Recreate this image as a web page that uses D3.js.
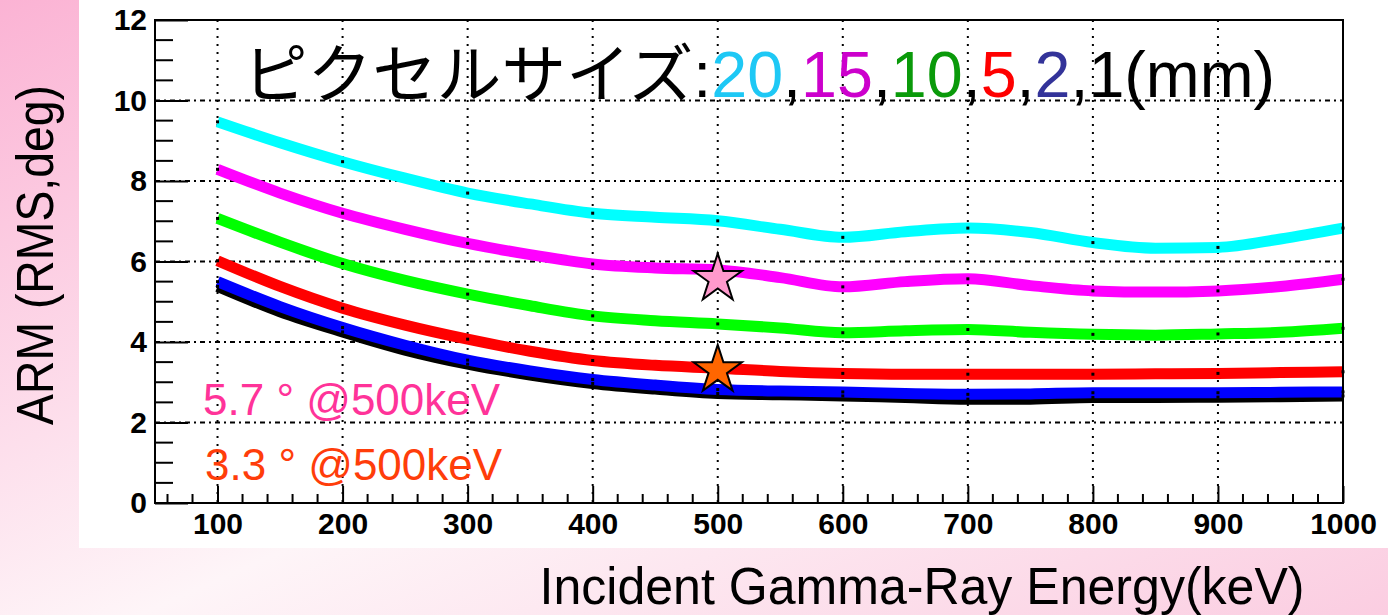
<!DOCTYPE html>
<html>
<head>
<meta charset="utf-8">
<script src="https://cdn.jsdelivr.net/npm/d3@7"></script>
<style>
  html, body { margin: 0; padding: 0; }
  svg { display: block; }
  .tick text { font-family: "Liberation Sans", Arial, sans-serif; font-weight: bold; font-size: 30px; fill: #000; }
</style>
</head>
<body>
<svg width="1388" height="615"></svg>
<script>
// energies (keV) and ARM (RMS, deg) per pixel size
const energy = [100,150,200,250,300,350,400,450,500,550,600,650,700,750,800,850,900,950,1000];
const arm20 = [9.47,8.95,8.48,8.07,7.70,7.43,7.20,7.10,7.01,6.80,6.60,6.74,6.83,6.72,6.47,6.33,6.35,6.56,6.83];
const arm15 = [8.29,7.70,7.20,6.80,6.45,6.17,5.94,5.84,5.79,5.60,5.37,5.50,5.57,5.40,5.27,5.24,5.27,5.38,5.56];
const arm10 = [7.07,6.48,5.95,5.53,5.19,4.90,4.65,4.53,4.45,4.35,4.23,4.28,4.31,4.24,4.19,4.17,4.20,4.24,4.34];
const arm5  = [6.02,5.38,4.84,4.42,4.07,3.77,3.54,3.42,3.35,3.27,3.22,3.20,3.20,3.20,3.20,3.21,3.22,3.24,3.26];
const arm2  = [5.50,4.88,4.36,3.92,3.55,3.28,3.07,2.93,2.82,2.78,2.76,2.72,2.70,2.71,2.74,2.74,2.74,2.75,2.76];
const arm1  = [5.38,4.75,4.25,3.80,3.45,3.18,2.97,2.83,2.72,2.69,2.66,2.62,2.58,2.58,2.62,2.62,2.63,2.64,2.66];

const sizeLabels = ["20","15","10","5","2","1"];
const sizeColors = ["#00ffff","#ff00ff","#00ff00","#ff0000","#0000ff","#000000"];
const titleColors = ["#1ec8f5","#cc00cc","#0a9a0a","#ff0000","#333399","#000000"];

const starE = [500, 500];
const starV = [5.57, 3.30];
const starFill = ["#ff99cc", "#ff6600"];

const notes = ["5.7 ° @500keV", "3.3 ° @500keV"];
const noteColors = ["#ff3399", "#ff3d0a"];

const yTicks = [0,2,4,6,8,10,12];
const xTicks = [100,200,300,400,500,600,700,800,900,1000];

const svg = d3.select("svg");

// pink background
const defs = svg.append("defs");
const grad = defs.append("linearGradient").attr("id", "bg")
  .attr("x1", 0).attr("y1", 0).attr("x2", 1).attr("y2", 1);
grad.append("stop").attr("offset", 0).attr("stop-color", "#fbb3d4");
grad.append("stop").attr("offset", 0.55).attr("stop-color", "#fef5f8");
grad.append("stop").attr("offset", 1).attr("stop-color", "#fbcde1");
svg.append("rect").attr("width", 1388).attr("height", 615).attr("fill", "url(#bg)");
svg.append("rect").attr("x", 79).attr("y", 0).attr("width", 1309).attr("height", 548).attr("fill", "#fff");

const pLeft = 155, pRight = 1343, pTop = 20, pBottom = 503;
const x = d3.scaleLinear().domain([50, 1000]).range([pLeft, pRight]);
const y = d3.scaleLinear().domain([0, 12]).range([pBottom, pTop]);

// grid
const g = svg.append("g");
g.selectAll(".vg").data(xTicks).enter().append("line")
  .attr("x1", d => x(d)).attr("x2", d => x(d))
  .attr("y1", pTop).attr("y2", pBottom)
  .attr("stroke", "#000").attr("stroke-width", 2).attr("stroke-dasharray", "2,6");
g.selectAll(".hg").data(yTicks.filter(d => d > 0 && d < 12)).enter().append("line")
  .attr("x1", pLeft).attr("x2", pRight)
  .attr("y1", d => y(d)).attr("y2", d => y(d))
  .attr("stroke", "#000").attr("stroke-width", 2).attr("stroke-dasharray", "5,4,2,4");

// title
const title = svg.append("text")
  .attr("x", 243).attr("y", 97)
  .attr("textLength", 1032).attr("lengthAdjust", "spacingAndGlyphs")
  .style("font-family", "'Liberation Sans', 'Noto Sans CJK JP', sans-serif")
  .style("font-size", "64px");
title.append("tspan").text("ピクセルサイズ:");
sizeLabels.forEach((s, i) => {
  title.append("tspan").attr("fill", titleColors[i]).text(s);
  if (i < sizeLabels.length - 1) title.append("tspan").attr("fill", "#000").text(",");
});
title.append("tspan").attr("fill", "#000").text("(mm)");

// curves
const series = [arm20, arm15, arm10, arm5, arm2, arm1];
const line = d3.line().x((d, i) => x(energy[i])).y(d => y(d)).curve(d3.curveMonotoneX);
const order = [5, 4, 3, 2, 1, 0];
order.forEach(k => {
  svg.append("path").datum(series[k])
    .attr("d", line).attr("fill", "none")
    .attr("stroke", sizeColors[k]).attr("stroke-width", 11);
});
order.forEach(k => {
  svg.selectAll(null).data(series[k].filter((d, i) => energy[i] % 100 === 0)).enter().append("rect")
    .attr("x", (d, i) => x(xTicks[i]) - 1.5).attr("y", d => y(d) - 1.5)
    .attr("width", 3).attr("height", 3).attr("fill", "#000");
});

// axes
const yAxis = d3.axisLeft(y).tickValues(yTicks).tickSize(-33).tickPadding(8);
const ya = svg.append("g").attr("transform", `translate(${pLeft},0)`).call(yAxis);
const xAxis = d3.axisBottom(x).tickValues(xTicks).tickFormat(d3.format("d")).tickSize(-17).tickPadding(10);
const xa = svg.append("g").attr("transform", `translate(0,${pBottom})`).call(xAxis);
[ya, xa].forEach(a => {
  a.select(".domain").remove();
  a.selectAll(".tick line").attr("stroke", "#000").attr("stroke-width", 2);
});
xa.selectAll(".tick text").attr("dy", "0.71em");

// minor ticks
svg.selectAll(".ym").data(d3.range(0, 12.01, 0.5).filter(v => v % 2 !== 0)).enter().append("line")
  .attr("x1", pLeft).attr("x2", pLeft + 18).attr("y1", d => y(d)).attr("y2", d => y(d))
  .attr("stroke", "#000").attr("stroke-width", 2);
svg.selectAll(".xm").data(d3.range(60, 1000, 20).filter(v => v % 100 !== 0)).enter().append("line")
  .attr("x1", d => x(d)).attr("x2", d => x(d)).attr("y1", pBottom).attr("y2", pBottom - 9)
  .attr("stroke", "#000").attr("stroke-width", 2);

// frame
svg.append("rect").attr("x", pLeft).attr("y", pTop).attr("width", pRight - pLeft).attr("height", pBottom - pTop)
  .attr("fill", "none").attr("stroke", "#000").attr("stroke-width", 2);

// stars
const star = d3.symbol().type(d3.symbolStar).size(720);
svg.selectAll(".star").data(starV).enter().append("path")
  .attr("d", star)
  .attr("transform", (d, i) => `translate(${x(starE[i])},${y(d)})`)
  .attr("fill", (d, i) => starFill[i]).attr("stroke", "#000").attr("stroke-width", 2);

// notes
svg.selectAll(".note").data(notes).enter().append("text")
  .attr("x", (d, i) => 203 + i * 2).attr("y", (d, i) => 415 + i * 65)
  .attr("fill", (d, i) => noteColors[i])
  .style("font-family", "'Liberation Sans', Arial, sans-serif").style("font-size", "44px")
  .text(d => d);

// axis titles
svg.append("text").attr("x", 922).attr("y", 604).attr("text-anchor", "middle")
  .attr("textLength", 765).attr("lengthAdjust", "spacingAndGlyphs")
  .style("font-family", "'Liberation Sans', Arial, sans-serif").style("font-size", "52px")
  .text("Incident Gamma-Ray Energy(keV)");
svg.append("text").attr("transform", "translate(53,255) rotate(-90)").attr("text-anchor", "middle")
  .attr("textLength", 340).attr("lengthAdjust", "spacingAndGlyphs")
  .style("font-family", "'Liberation Sans', Arial, sans-serif").style("font-size", "52px")
  .text("ARM (RMS,deg)");
</script>
</body>
</html>
